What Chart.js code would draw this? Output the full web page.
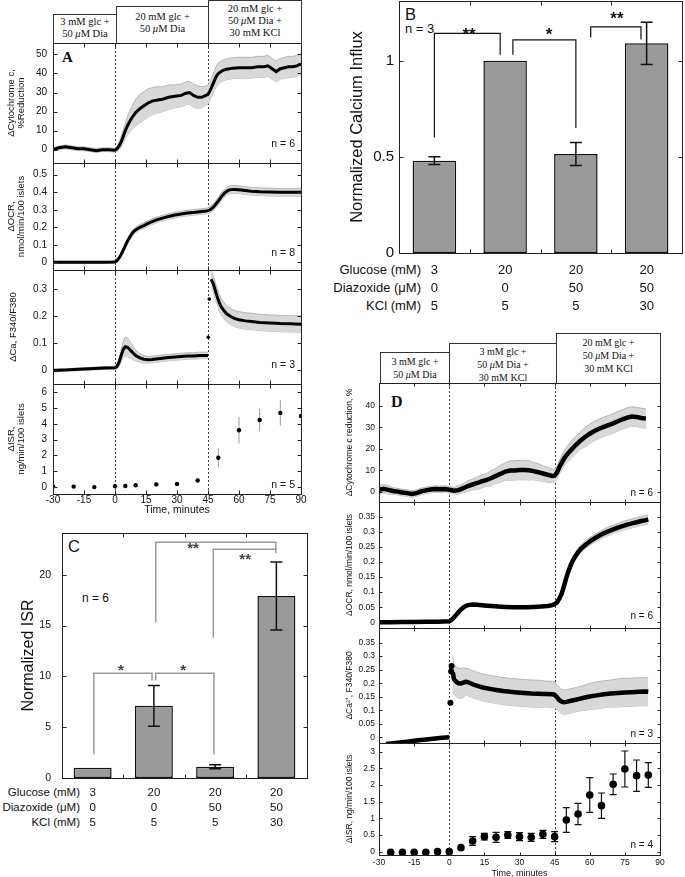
<!DOCTYPE html>
<html>
<head>
<meta charset="utf-8">
<title>Cytochrome c, OCR, Ca and ISR responses</title>
<script src="https://cdn.jsdelivr.net/npm/chart.js@4.4.1/dist/chart.umd.min.js"></script>
<style>
  html, body { margin: 0; padding: 0; background: #fff; }
  #fig { position: relative; width: 685px; height: 877px; overflow: hidden; background: #fff;
         font-family: "Liberation Sans", Arial, sans-serif; color: #111; }
  #fig canvas { position: absolute; }
  .hdr { position: absolute; box-sizing: border-box; border: 1px solid #333; background: #fff;
         font-family: "Liberation Serif", "Times New Roman", serif; text-align: center; color: #111; white-space: nowrap; }
  .hdrA { font-size: 10.5px; line-height: 12px; }
  .hdrD { font-size: 10px; line-height: 13px; }
  .lbl { position: absolute; white-space: nowrap; line-height: 1; }
</style>
</head>
<body>
<div id="fig">
  <div class="hdr hdrA" style="left:53px;top:14px;width:64px;height:30px;padding-top:1px">3 mM glc +<br>50 <i>μ</i>M Dia</div>
  <div class="hdr hdrA" style="left:116px;top:6px;width:93px;height:38px;padding-top:4px">20 mM glc +<br>50 <i>μ</i>M Dia</div>
  <div class="hdr hdrA" style="left:208px;top:0px;width:94px;height:44px;padding-top:2px">20 mM glc +<br>50 <i>μ</i>M Dia +<br>30 mM KCl</div>

  <div class="hdr hdrD" style="left:380px;top:352px;width:70px;height:32px;padding-top:2px">3 mM glc +<br>50 <i>μ</i>M Dia</div>
  <div class="hdr hdrD" style="left:449px;top:343px;width:108px;height:41px;padding-top:1px">3 mM glc +<br>50 <i>μ</i>M Dia +<br>30 mM KCl</div>
  <div class="hdr hdrD" style="left:556px;top:333px;width:105px;height:51px;padding-top:2px">20 mM glc +<br>50 <i>μ</i>M Dia +<br>30 mM KCl</div>

  <div class="lbl" style="left:62px;top:49px;font:bold 15px 'Liberation Serif',serif">A</div>
  <div class="lbl" style="left:391px;top:393px;font:bold 16px 'Liberation Serif',serif">D</div>
  <div class="lbl" style="left:405px;top:6px;font-size:16.5px">B</div>
  <div class="lbl" style="left:405px;top:22px;font-size:13px">n = 3</div>
  <div class="lbl" style="left:68px;top:538px;font-size:16.5px">C</div>
  <div class="lbl" style="left:82px;top:592px;font-size:12px">n = 6</div>

  <div class="lbl" style="left:280px;top:261px;width:141px;text-align:right;font-size:13px;line-height:18px">Glucose (mM)<br>Diazoxide (μM)<br>KCl (mM)</div>
  <div class="lbl" style="left:-40px;top:785px;width:120px;text-align:right;font-size:11.5px;line-height:15px">Glucose (mM)<br>Diazoxide (μM)<br>KCl (mM)</div>
</div>

<script>
// ---- data ----------------------------------------------------------------
const timeTicks = [-30, -15, 0, 15, 30, 45, 60, 75, 90];
const stepTimes = [0, 45];

// panel A, cytochrome c reduction (%)
const cytA_t = [-30, -27, -24, -21, -18, -15, -12, -9, -6, -3,
  0, 1, 2, 3, 4, 5, 6, 7, 8, 10,
  12, 14, 16, 18, 20, 23, 26, 29, 32, 34,
  36, 38, 40, 42, 44, 45, 46, 47, 48, 49,
  50, 52, 54, 57, 60, 63, 66, 69, 72, 74,
  76, 78, 80, 82, 84, 86, 88, 90];
const cytA_v = [0, 1, 1.5, 1, 0.5, 0.5, 0, -0.5, 0, 0,
  -0.3, 0.5, 2, 4, 7, 10, 12.5, 14.5, 16.5, 19.5,
  21.5, 23, 24.5, 25.5, 26, 26.5, 27.5, 28, 28.5, 29.5,
  30, 28.5, 27.5, 27.5, 28.5, 29, 31, 33.5, 36, 38.5,
  40, 41.5, 42.2, 42.8, 43, 43, 43, 43.5, 43.5, 44,
  42.5, 41, 42.5, 43, 43.5, 43.5, 44, 45];
const cytA_e = [1, 1, 1, 1, 1, 1, 1, 1, 1, 1,
  1, 1.5, 2, 3, 3.5, 4, 5, 5.5, 6, 7,
  7.5, 7.5, 7.5, 7, 7, 6.5, 6.5, 6, 6, 6,
  6, 6, 6, 5.5, 5, 5, 5, 5, 5, 5.5,
  5.5, 5.5, 5.5, 5.5, 5.5, 5.5, 5.5, 5.5, 5.5, 5.5,
  5.5, 5.5, 5.5, 5.5, 5.5, 5.5, 5.5, 5.5];

// panel A, OCR (nmol/min/100 islets)
const ocrA_t = [-30, -25, -20, -15, -10, -5, 0, 1, 2, 3,
  4, 5, 6, 7, 8, 9, 10, 12, 14, 16,
  18, 20, 23, 26, 29, 32, 35, 38, 41, 44,
  45, 46, 47, 48, 49, 50, 51, 52, 53, 54,
  55, 56, 58, 60, 63, 66, 70, 75, 80, 85,
  90];
const ocrA_v = [0, 0, 0, 0, 0, 0, 0.002, 0.01, 0.025, 0.045,
  0.07, 0.095, 0.12, 0.14, 0.16, 0.175, 0.185, 0.2, 0.21, 0.222,
  0.232, 0.242, 0.252, 0.262, 0.27, 0.276, 0.281, 0.285, 0.289, 0.293,
  0.295, 0.3, 0.308, 0.32, 0.335, 0.35, 0.367, 0.382, 0.395, 0.405,
  0.412, 0.415, 0.416, 0.414, 0.41, 0.406, 0.403, 0.401, 0.4, 0.4,
  0.4];
const ocrA_e = [0.006, 0.006, 0.006, 0.006, 0.006, 0.006, 0.006, 0.008, 0.01, 0.012,
  0.014, 0.015, 0.016, 0.016, 0.016, 0.016, 0.016, 0.016, 0.016, 0.016,
  0.016, 0.016, 0.016, 0.016, 0.016, 0.016, 0.016, 0.016, 0.016, 0.016,
  0.016, 0.018, 0.02, 0.02, 0.022, 0.022, 0.022, 0.022, 0.022, 0.022,
  0.022, 0.022, 0.022, 0.022, 0.022, 0.022, 0.022, 0.022, 0.022, 0.022,
  0.022];

// panel A, calcium F340/F380 (before and after KCl)
const caA1_t = [-30, -25, -20, -15, -10, -5, 0, 1, 2, 3,
  4, 5, 6, 7, 8, 9, 10, 12, 14, 16,
  18, 20, 23, 26, 29, 32, 35, 38, 41, 44,
  45];
const caA1_v = [0, 0.001, 0.003, 0.005, 0.007, 0.009, 0.01, 0.015, 0.03, 0.055,
  0.078, 0.087, 0.085, 0.078, 0.07, 0.062, 0.055, 0.046, 0.041, 0.039,
  0.04, 0.042, 0.045, 0.047, 0.049, 0.051, 0.053, 0.053, 0.055, 0.055,
  0.055];
const caA1_e = [0.005, 0.005, 0.005, 0.005, 0.005, 0.005, 0.005, 0.01, 0.015, 0.022,
  0.03, 0.035, 0.035, 0.032, 0.028, 0.024, 0.02, 0.016, 0.014, 0.012,
  0.012, 0.012, 0.012, 0.012, 0.012, 0.012, 0.012, 0.012, 0.012, 0.012,
  0.012];
const caAjump_t = [45.1, 45.6];
const caAjump_v = [0.122, 0.262];
const caA2_t = [46.5, 47.5, 48.5, 49.5, 50.5, 51.5, 52.5, 54, 56, 58,
  60, 63, 66, 70, 75, 80, 85, 90];
const caA2_v = [0.335, 0.32, 0.295, 0.27, 0.248, 0.232, 0.222, 0.208, 0.198, 0.19,
  0.186, 0.182, 0.18, 0.176, 0.174, 0.172, 0.171, 0.17];
const caA2_e = [0.03, 0.03, 0.03, 0.03, 0.03, 0.03, 0.03, 0.03, 0.03, 0.03,
  0.03, 0.03, 0.03, 0.03, 0.03, 0.03, 0.03, 0.03];

// panel A, ISR (ng/min/100 islets)
const isrA_t = [-30, -20, -10, 0, 5, 10, 20, 30, 40, 50, 60, 70, 80, 90];
const isrA_v = [0.02, 0.01, -0.02, 0.04, 0.05, 0.1, 0.15, 0.18, 0.4, 1.85, 3.6, 4.25, 4.7, 4.5];
const isrA_e = [0, 0, 0, 0, 0, 0, 0, 0, 0, 0.6, 0.85, 0.7, 0.8, 0];

// panel B, normalized calcium influx
const glucose = ['3', '20', '20', '20'];
const diazoxide = ['0', '0', '50', '50'];
const kcl = ['5', '5', '5', '30'];
const caInflux = [0.48, 1.0, 0.515, 1.09];
const caInfluxErr = [0.02, 0, 0.06, 0.11];

// panel C, normalized ISR
const isrNorm = [1.0, 7.1, 1.1, 17.9];
const isrNormErr = [0, 2.0, 0.2, 3.35];

// panel D, cytochrome c reduction (%)
const cytD_t = [-30, -28, -26, -24, -22, -20, -18, -16, -14, -12,
  -10, -8, -6, -4, -2, 0, 2, 4, 6, 8,
  10, 12, 14, 16, 18, 20, 22, 24, 26, 28,
  30, 32, 34, 36, 38, 40, 42, 44, 45, 46,
  47, 48, 49, 50, 52, 54, 56, 58, 60, 62,
  64, 66, 68, 70, 72, 74, 76, 78, 80, 82,
  84];
const cytD_v = [1, 1.5, 1, 0.5, 0.2, -0.2, -0.5, -0.9, -0.5, 0.3,
  0.8, 1.2, 1.4, 1.3, 1.4, 1.1, 0.6, 0.9, 1.8, 2.8,
  3.5, 4.2, 5, 5.6, 6.5, 7.5, 8.5, 9.5, 10, 10,
  10.2, 10.2, 10.1, 9.7, 9.2, 8.6, 8, 7.5, 7.6, 9,
  11.5, 13.5, 15.5, 17, 19.5, 21.8, 23.8, 25.5, 27, 28.3,
  29.3, 30.2, 31, 31.8, 32.8, 33.7, 34.5, 35, 34.8, 34.3,
  34];
const cytD_e = [2, 2, 2, 1.5, 1.5, 1.5, 1.5, 1.5, 1.5, 1.5,
  1.5, 1.5, 1.5, 1.5, 1.5, 1.5, 1.5, 2, 2, 2.5,
  2.5, 3, 3, 3, 3.5, 3.5, 4, 4, 4.5, 4.5,
  4.5, 4.5, 4.5, 4, 4, 3.5, 3.5, 3, 3, 3,
  3, 3.5, 3.5, 3.5, 4, 4, 4, 4.5, 4.5, 4.5,
  4.5, 4.5, 4.5, 4.5, 4.5, 4.5, 4.5, 4.5, 4.5, 4.5,
  4.5];

// panel D, OCR
const ocrD_t = [-30, -25, -20, -15, -10, -5, 0, 1, 2, 3,
  4, 5, 6, 7, 8, 10, 12, 15, 18, 21,
  24, 27, 30, 33, 36, 39, 42, 44, 45, 46,
  47, 48, 49, 50, 51, 52, 53, 54, 55, 56,
  58, 60, 62, 64, 66, 68, 70, 72, 74, 76,
  78, 80, 82, 84, 85];
const ocrD_v = [0, 0, 0.001, 0.001, 0.002, 0.002, 0.003, 0.008, 0.016, 0.025,
  0.034, 0.042, 0.049, 0.054, 0.057, 0.059, 0.058, 0.056, 0.054, 0.052,
  0.051, 0.05, 0.05, 0.05, 0.051, 0.052, 0.054, 0.057, 0.06, 0.066,
  0.078, 0.095, 0.12, 0.148, 0.172, 0.192, 0.208, 0.221, 0.232, 0.242,
  0.256, 0.268, 0.278, 0.287, 0.295, 0.302, 0.308, 0.314, 0.319, 0.324,
  0.328, 0.332, 0.336, 0.339, 0.341];
const ocrD_e = [0.003, 0.003, 0.003, 0.003, 0.003, 0.003, 0.003, 0.003, 0.004, 0.004,
  0.004, 0.004, 0.004, 0.004, 0.004, 0.004, 0.004, 0.004, 0.004, 0.004,
  0.004, 0.004, 0.004, 0.004, 0.004, 0.004, 0.004, 0.004, 0.004, 0.005,
  0.006, 0.007, 0.008, 0.009, 0.01, 0.01, 0.011, 0.012, 0.012, 0.012,
  0.013, 0.013, 0.013, 0.013, 0.014, 0.014, 0.014, 0.014, 0.015, 0.015,
  0.015, 0.015, 0.015, 0.015, 0.015];

// panel D, calcium
const caD1_t = [-27, -24, -21, -18, -15, -12, -9, -6, -3, 0];
const caD1_v = [-0.025, -0.022, -0.019, -0.016, -0.013, -0.01, -0.007, -0.004, -0.002, 0];
const caD1_e = [0.003, 0.003, 0.003, 0.003, 0.003, 0.003, 0.003, 0.003, 0.003, 0.003];
const caDjump_t = [0.5, 0.8, 1.0];
const caDjump_v = [0.128, 0.243, 0.264];
const caD2_t = [1.5, 2, 3, 4, 5, 6, 7, 8, 9, 10,
  12, 14, 16, 18, 20, 23, 26, 29, 32, 35,
  38, 41, 44, 45, 46, 47, 48, 49, 50, 52,
  54, 56, 58, 60, 63, 66, 69, 72, 75, 78,
  81, 84, 85];
const caD2_v = [0.24, 0.215, 0.205, 0.2, 0.199, 0.202, 0.205, 0.204, 0.2, 0.196,
  0.19, 0.185, 0.181, 0.178, 0.175, 0.171, 0.168, 0.166, 0.164, 0.162,
  0.161, 0.16, 0.159, 0.157, 0.148, 0.138, 0.132, 0.13, 0.131, 0.135,
  0.139, 0.143, 0.147, 0.151, 0.155, 0.159, 0.162, 0.164, 0.166, 0.167,
  0.168, 0.169, 0.168];
const caD2_e = [0.06, 0.055, 0.055, 0.055, 0.055, 0.055, 0.05, 0.05, 0.05, 0.05,
  0.05, 0.05, 0.05, 0.05, 0.05, 0.05, 0.05, 0.05, 0.05, 0.05,
  0.05, 0.048, 0.048, 0.048, 0.045, 0.045, 0.045, 0.045, 0.045, 0.045,
  0.045, 0.045, 0.047, 0.048, 0.05, 0.05, 0.05, 0.052, 0.052, 0.052,
  0.052, 0.052, 0.052];

// panel D, ISR
const isrD_t = [-25, -20, -15, -10, -5, 0, 5, 10, 15, 20,
  25, 30, 35, 40, 45, 50, 55, 60, 65, 70,
  75, 80, 85];
const isrD_v = [-0.02, -0.02, -0.02, -0.02, 0, 0, 0.12, 0.32, 0.45, 0.43,
  0.5, 0.45, 0.43, 0.52, 0.45, 0.95, 1.13, 1.7, 1.38, 2.02,
  2.48, 2.28, 2.3];
const isrD_e = [0, 0, 0, 0, 0, 0, 0, 0.13, 0.1, 0.15,
  0.1, 0.12, 0.12, 0.12, 0.15, 0.37, 0.32, 0.52, 0.38, 0.31,
  0.54, 0.47, 0.37];

// ---- helpers -------------------------------------------------------------
Chart.defaults.font.family = '"Liberation Sans", Arial, sans-serif';
Chart.defaults.color = '#111';

const PAD_TOP = 3, PAD_RIGHT = 12;

function addCanvas(left, top, w, h) {
  const c = document.createElement('canvas');
  c.width = w; c.height = h;
  c.style.left = left + 'px'; c.style.top = top + 'px';
  c.style.width = w + 'px'; c.style.height = h + 'px';
  document.getElementById('fig').appendChild(c);
  return c;
}

// keep the plot box exactly where it was measured
function fixWidth(w) {
  return s => { s.width = w; s.paddingTop = 0; s.paddingBottom = 0; };
}
function fixHeight(h) {
  return s => { s.height = h; s.paddingLeft = 0; s.paddingRight = 0; };
}

// box, inward ticks, dashed step lines and "n = x" note
const framePlugin = {
  id: 'frame',
  beforeDatasetsDraw(chart, args, o) {
    if (!o.vlines) return;
    const { ctx, chartArea: a } = chart;
    ctx.save();
    ctx.strokeStyle = '#444';
    ctx.lineWidth = 1;
    ctx.setLineDash([2, 2]);
    o.vlines.forEach(v => {
      const x = Math.round(chart.scales.x.getPixelForValue(v)) + 0.5;
      ctx.beginPath(); ctx.moveTo(x, a.top); ctx.lineTo(x, a.bottom); ctx.stroke();
    });
    ctx.restore();
  },
  afterDraw(chart, args, o) {
    const { ctx, chartArea: a } = chart;
    const xs = chart.scales.x, ys = chart.scales.y;
    const L = Math.round(a.left) + 0.5, R = Math.round(a.right) + 0.5;
    const T = Math.round(a.top) + 0.5, B = Math.round(a.bottom) + 0.5;
    const len = o.len || 4;
    ctx.save();
    ctx.strokeStyle = '#222';
    ctx.lineWidth = 1;
    ctx.beginPath();
    (o.yticks || []).forEach(v => {
      const y = Math.round(ys.getPixelForValue(v)) + 0.5;
      ctx.moveTo(L, y); ctx.lineTo(L + len, y);
      ctx.moveTo(R, y); ctx.lineTo(R - len, y);
    });
    (o.xticks || []).forEach(v => {
      const x = Math.round(xs.getPixelForValue(v)) + 0.5;
      ctx.moveTo(x, B); ctx.lineTo(x, B - len);
      ctx.moveTo(x, T); ctx.lineTo(x, T + len);
    });
    ctx.stroke();
    ctx.strokeRect(L, T, R - L, B - T);
    if (o.note) {
      ctx.font = o.noteFont;
      ctx.fillStyle = '#111';
      ctx.textAlign = 'right';
      ctx.textBaseline = 'middle';
      ctx.fillText(o.note, a.right - o.noteDx, a.bottom - o.noteDy);
    }
    ctx.restore();
  }
};

function drawErr(chart, s) {
  const ctx = chart.ctx, xs = chart.scales.x, ys = chart.scales.y;
  ctx.strokeStyle = s.color;
  ctx.lineWidth = s.width;
  s.x.forEach((xv, i) => {
    const e = s.e[i];
    if (!e) return;
    const x = xs.getPixelForValue(xv);
    const y1 = ys.getPixelForValue(s.v[i] + e), y2 = ys.getPixelForValue(s.v[i] - e);
    ctx.beginPath();
    ctx.moveTo(x, y1); ctx.lineTo(x, y2);
    if (s.cap) {
      ctx.moveTo(x - s.cap, y1); ctx.lineTo(x + s.cap, y1);
      ctx.moveTo(x - s.cap, y2); ctx.lineTo(x + s.cap, y2);
    }
    ctx.stroke();
  });
}

const errPlugin = {
  id: 'errbars',
  beforeDatasetsDraw(chart, args, o) {
    if (!o.sets) return;
    chart.ctx.save();
    o.sets.filter(s => !s.front).forEach(s => drawErr(chart, s));
    chart.ctx.restore();
  },
  afterDatasetsDraw(chart, args, o) {
    if (!o.sets) return;
    chart.ctx.save();
    o.sets.filter(s => s.front).forEach(s => drawErr(chart, s));
    chart.ctx.restore();
  }
};

// significance brackets (x in category units, y in data units)
const bracketPlugin = {
  id: 'brackets',
  afterDatasetsDraw(chart, args, o) {
    if (!o.items) return;
    const ctx = chart.ctx, xs = chart.scales.x, ys = chart.scales.y;
    ctx.save();
    ctx.strokeStyle = o.color;
    ctx.lineWidth = o.width;
    ctx.fillStyle = o.textColor;
    ctx.font = o.font;
    ctx.textAlign = 'center';
    ctx.textBaseline = 'middle';
    o.items.forEach(b => {
      const x1 = xs.getPixelForValue(b.x1), x2 = xs.getPixelForValue(b.x2);
      const yt = ys.getPixelForValue(b.top);
      ctx.beginPath();
      ctx.moveTo(x1, ys.getPixelForValue(b.y1));
      ctx.lineTo(x1, yt);
      ctx.lineTo(x2, yt);
      ctx.lineTo(x2, ys.getPixelForValue(b.y2));
      ctx.stroke();
      ctx.fillText(b.label, xs.getPixelForValue(b.lx), ys.getPixelForValue(b.ly) + o.shift);
    });
    ctx.restore();
  }
};

const pts = (t, v) => t.map((x, i) => ({ x: x, y: v[i] }));

function timeChart(p) {
  const W = p.right - p.left, H = p.bottom - p.top;
  const xH = p.xAxis ? p.xAxisH : 0;
  const padB = p.xAxis ? 0 : 1;
  const canvas = addCanvas(p.left - p.yW, p.top - PAD_TOP, p.yW + W + PAD_RIGHT, PAD_TOP + H + xH + padB);
  const datasets = [];
  const errSets = [];
  (p.lines || []).forEach(s => {
    datasets.push({ data: pts(s.t, s.v), borderColor: '#000', borderWidth: p.lineW,
      pointRadius: 0, fill: false, tension: 0, order: 0 });
    datasets.push({ data: pts(s.t, s.v.map((v, i) => v + s.e[i])), borderColor: '#aaaaaa', borderWidth: 0.8,
      pointRadius: 0, fill: '+1', backgroundColor: '#d8d8d8', tension: 0, order: 5 });
    datasets.push({ data: pts(s.t, s.v.map((v, i) => v - s.e[i])), borderColor: '#aaaaaa', borderWidth: 0.8,
      pointRadius: 0, fill: false, tension: 0, order: 5 });
  });
  (p.dots || []).forEach(s => {
    datasets.push({ data: pts(s.t, s.v), showLine: false, pointRadius: s.r, pointBackgroundColor: '#000',
      pointBorderColor: '#000', pointBorderWidth: 0, order: 0 });
    if (s.e) errSets.push({ x: s.t, v: s.v, e: s.e, color: s.errColor, width: s.errW, cap: s.cap });
  });
  return new Chart(canvas, {
    type: 'line',
    data: { datasets },
    options: {
      responsive: false, animation: false, events: [],
      layout: { autoPadding: false, padding: { top: PAD_TOP, right: PAD_RIGHT, bottom: padB, left: 0 } },
      plugins: {
        legend: { display: false }, tooltip: { enabled: false },
        frame: { vlines: stepTimes, xticks: timeTicks, yticks: p.yTicks, len: p.tickLen,
          note: p.note, noteFont: p.noteFont, noteDx: p.noteDx, noteDy: p.noteDy },
        errbars: { sets: errSets }
      },
      scales: {
        x: {
          type: 'linear', min: -30, max: 90, display: !!p.xAxis,
          afterBuildTicks: s => { s.ticks = timeTicks.map(v => ({ value: v })); },
          afterFit: fixHeight(xH),
          grid: { display: false, drawTicks: false }, border: { display: false },
          ticks: { font: { size: p.tickSize }, padding: p.xTickPad || 0, maxRotation: 0, autoSkip: false,
            callback: v => String(v) },
          title: { display: !!p.xAxis, text: 'Time, minutes', font: { size: p.xTitleSize }, padding: 0 }
        },
        y: {
          min: p.yMin, max: p.yMax,
          afterBuildTicks: s => { s.ticks = p.yTicks.map(v => ({ value: v })); },
          afterFit: fixWidth(p.yW),
          grid: { display: false, drawTicks: false }, border: { display: false },
          ticks: { font: { size: p.tickSize }, padding: p.yTickPad, callback: v => String(v) },
          title: { display: true, text: p.title, font: { size: p.titleSize, lineHeight: p.titleLH },
            padding: { top: p.titlePad, bottom: 0 } }
        }
      }
    },
    plugins: [framePlugin, errPlugin]
  });
}

function barChart(p) {
  const W = p.right - p.left, H = p.bottom - p.top;
  const canvas = addCanvas(p.left - p.yW, p.top - PAD_TOP, p.yW + W + PAD_RIGHT, PAD_TOP + H + p.xAxisH);
  const labels = glucose.map((g, i) => [g, diazoxide[i], kcl[i]]);
  const idx = labels.map((l, i) => i);
  return new Chart(canvas, {
    type: 'bar',
    data: {
      labels,
      datasets: [{ data: p.values, backgroundColor: '#9a9a9a', borderColor: '#111', borderWidth: 1.5,
        borderSkipped: false, barPercentage: p.barPct, categoryPercentage: 1 }]
    },
    options: {
      responsive: false, animation: false, events: [],
      layout: { autoPadding: false, padding: { top: PAD_TOP, right: PAD_RIGHT, bottom: 0, left: 0 } },
      plugins: {
        legend: { display: false }, tooltip: { enabled: false },
        frame: { xticks: [0.5, 1.5, 2.5], yticks: p.yTicks, len: 4 },
        errbars: { sets: [{ x: idx, v: p.values, e: p.errs, color: '#111', width: 1.5, cap: p.cap, front: true }] },
        brackets: p.brackets
      },
      scales: {
        x: {
          afterFit: fixHeight(p.xAxisH),
          grid: { display: false, drawTicks: false }, border: { display: false },
          ticks: { font: { size: p.xTickSize, lineHeight: p.xTickLH }, padding: p.xTickPad, maxRotation: 0 }
        },
        y: {
          min: 0, max: p.yMax,
          afterBuildTicks: s => { s.ticks = p.yTicks.map(v => ({ value: v })); },
          afterFit: fixWidth(p.yW),
          grid: { display: false, drawTicks: false }, border: { display: false },
          ticks: { font: { size: p.yTickSize }, padding: p.yTickPad, callback: v => String(v) },
          title: { display: true, text: p.title, font: { size: p.titleSize },
            padding: { top: p.titlePad, bottom: 0 } }
        }
      }
    },
    plugins: [framePlugin, errPlugin, bracketPlugin]
  });
}

// ---- panel A -------------------------------------------------------------
const A = { left: 53, right: 301, yW: 50, tickSize: 10, yTickPad: 6, titleSize: 9.5, titleLH: 1.05,
  titlePad: 3.5, lineW: 3, tickLen: 4, noteFont: '10.5px "Liberation Sans", Arial', noteDx: 6 };

timeChart(Object.assign({}, A, {
  top: 43, bottom: 163, yMin: -7, yMax: 56, yTicks: [0, 10, 20, 30, 40, 50],
  title: ['\u0394Cytochrome c,', '%Reduction'], note: 'n = 6', noteDy: 19,
  lines: [{ t: cytA_t, v: cytA_v, e: cytA_e }]
}));
timeChart(Object.assign({}, A, {
  top: 163, bottom: 270, yMin: -0.044, yMax: 0.567, yTicks: [0, 0.1, 0.2, 0.3, 0.4, 0.5],
  title: ['\u0394OCR,', 'nmol/min/100 islets'], note: 'n = 8', noteDy: 17,
  lines: [{ t: ocrA_t, v: ocrA_v, e: ocrA_e }]
}));
timeChart(Object.assign({}, A, {
  top: 270, bottom: 384, yMin: -0.05, yMax: 0.369, yTicks: [0, 0.1, 0.2, 0.3],
  title: '\u0394Ca, F340/F380', note: 'n = 3', noteDy: 19, titlePad: 5,
  lines: [{ t: caA1_t, v: caA1_v, e: caA1_e }, { t: caA2_t, v: caA2_v, e: caA2_e }],
  dots: [{ t: caAjump_t, v: caAjump_v, r: 1.8 }]
}));
timeChart(Object.assign({}, A, {
  top: 384, bottom: 494, yMin: -0.46, yMax: 6.54, yTicks: [0, 1, 2, 3, 4, 5, 6],
  title: ['\u0394ISR,', 'ng/min/100 islets'], note: 'n = 5', noteDy: 9,
  xAxis: true, xAxisH: 22, xTickPad: 0, xTitleSize: 10.5,
  dots: [{ t: isrA_t, v: isrA_v, e: isrA_e, r: 2.2, errColor: '#9a9a9a', errW: 1, cap: 0 }]
}));

// ---- panel B -------------------------------------------------------------
barChart({
  left: 399, right: 682, top: 1, bottom: 253, yW: 59, xAxisH: 60,
  values: caInflux, errs: caInfluxErr, barPct: 0.615, cap: 6,
  yMax: 1.31, yTicks: [0, 0.5, 1], yTickSize: 15, yTickPad: 5,
  xTickSize: 13, xTickLH: 18 / 13, xTickPad: 8,
  title: 'Normalized Calcium Influx', titleSize: 16.5, titlePad: 7.6,
  brackets: {
    color: '#111', width: 1.2, textColor: '#111', font: 'bold 17px "Liberation Sans", Arial', shift: 4,
    items: [
      { x1: 0, x2: 0.93, y1: 0.6, y2: 1.03, top: 1.142, label: '**', lx: 0.49, ly: 1.151 },
      { x1: 1.11, x2: 2.0, y1: 1.03, y2: 0.65, top: 1.108, label: '*', lx: 1.62, ly: 1.151 },
      { x1: 2.21, x2: 2.92, y1: 1.12, y2: 1.11, top: 1.175, label: '**', lx: 2.58, ly: 1.233 }
    ]
  }
});

// ---- panel C -------------------------------------------------------------
barChart({
  left: 62, right: 307, top: 533, bottom: 778, yW: 57, xAxisH: 55,
  values: isrNorm, errs: isrNormErr, barPct: 0.62, cap: 6,
  yMax: 24.1, yTicks: [0, 5, 10, 15, 20], yTickSize: 10.5, yTickPad: 11,
  xTickSize: 11.5, xTickLH: 15 / 11.5, xTickPad: 7.5,
  title: 'Normalized ISR', titleSize: 16, titlePad: 14.4,
  brackets: {
    color: '#9a9a9a', width: 1.5, textColor: '#444', font: 'bold 15px "Liberation Sans", Arial', shift: 3.5,
    items: [
      { x1: 0.02, x2: 0.97, y1: 2.3, y2: 9.6, top: 10.3, label: '*', lx: 0.46, ly: 10.9 },
      { x1: 1.03, x2: 1.98, y1: 9.6, y2: 2.3, top: 10.3, label: '*', lx: 1.48, ly: 10.9 },
      { x1: 1.03, x2: 2.99, y1: 15.3, y2: 22.4, top: 23.2, label: '**', lx: 1.64, ly: 22.9 },
      { x1: 1.97, x2: 2.99, y1: 13.8, y2: 22.1, top: 22.5, label: '**', lx: 2.49, ly: 21.8 }
    ]
  }
});

// ---- panel D -------------------------------------------------------------
const D = { left: 379, right: 660, yW: 41, tickSize: 8.5, yTickPad: 4, titleSize: 8.5, titleLH: 1,
  titlePad: 7.5, lineW: 4.5, tickLen: 3, noteFont: '10px "Liberation Sans", Arial', noteDx: 7 };

timeChart(Object.assign({}, D, {
  top: 383, bottom: 502, yMin: -4.6, yMax: 50.5, yTicks: [0, 10, 20, 30, 40],
  title: '\u0394Cytochrome c reduction, %', note: 'n = 6', noteDy: 8.5,
  lines: [{ t: cytD_t, v: cytD_v, e: cytD_e }]
}));
timeChart(Object.assign({}, D, {
  top: 502, bottom: 628, yMin: -0.019, yMax: 0.399,
  yTicks: [0, 0.05, 0.1, 0.15, 0.2, 0.25, 0.3, 0.35],
  title: '\u0394OCR, nmol/min/100 islets', note: 'n = 6', noteDy: 11.5,
  lines: [{ t: ocrD_t, v: ocrD_v, e: ocrD_e }]
}));
timeChart(Object.assign({}, D, {
  top: 628, bottom: 743, yMin: -0.021, yMax: 0.404,
  yTicks: [0, 0.05, 0.1, 0.15, 0.2, 0.25, 0.3, 0.35],
  title: '\u0394Ca\u00b2\u207a, F340/F380', note: 'n = 3', noteDy: 9,
  lines: [{ t: caD1_t, v: caD1_v, e: caD1_e }, { t: caD2_t, v: caD2_v, e: caD2_e }],
  dots: [{ t: caDjump_t, v: caDjump_v, r: 3 }]
}));
timeChart(Object.assign({}, D, {
  top: 743, bottom: 855, yMin: -0.1, yMax: 3.26, yTicks: [0, 0.5, 1, 1.5, 2, 2.5, 3],
  title: '\u0394ISR, ng/min/100 islets', note: 'n = 4', noteDy: 10,
  xAxis: true, xAxisH: 24, xTickPad: 3, xTitleSize: 9,
  dots: [{ t: isrD_t, v: isrD_v, e: isrD_e, r: 3.8, errColor: '#111', errW: 1.2, cap: 3.5 }]
}));
</script>
</body>
</html>
